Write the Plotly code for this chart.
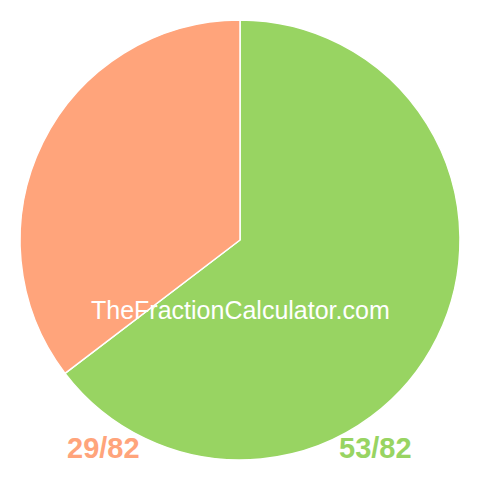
import plotly.graph_objects as go

labels = ["53/82", "29/82"]
values = [53, 29]
colors = ["#98d462", "#ffa47b"]

fig = go.Figure(go.Pie(
    labels=labels,
    values=values,
    sort=False,
    direction="clockwise",
    rotation=0,
    marker=dict(colors=colors, line=dict(color="white", width=1.5)),
    textinfo="none",
    hoverinfo="label",
    showlegend=False,
))

# fraction labels under the pie
lab_font = "Liberation Sans, Arial"
fig.add_annotation(text="<b>" + labels[1] + "</b>", x=0.189, y=0.027, xref="paper", yref="paper",
                   xanchor="center", yanchor="middle", showarrow=False,
                   font=dict(family=lab_font, size=29, color=colors[1]))
fig.add_annotation(text="<b>" + labels[0] + "</b>", x=0.809, y=0.027, xref="paper", yref="paper",
                   xanchor="center", yanchor="middle", showarrow=False,
                   font=dict(family=lab_font, size=29, color=colors[0]))
fig.add_annotation(text="TheFractionCalculator.com", x=0.5, y=0.341, xref="paper", yref="paper",
                   xanchor="center", yanchor="middle", showarrow=False,
                   font=dict(family=lab_font, size=25, color="white"))

# page has an 8px body margin, so shift the plot area up/left
fig.update_layout(width=480, height=480, margin=dict(l=12, r=28, t=12, b=28),
                  paper_bgcolor="white", plot_bgcolor="white")
fig.write_html("out.html")
